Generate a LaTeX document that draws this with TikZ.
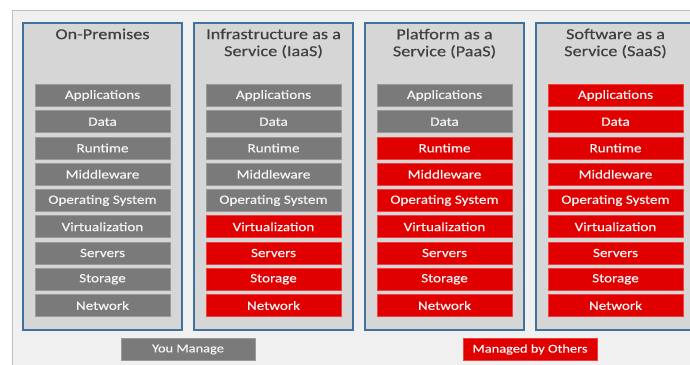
\documentclass[tikz,border=0pt]{standalone}
\usepackage{fontspec}
\setmainfont[FakeStretch=1.2,FakeBold=0.4]{Carlito}
\definecolor{pageback}{HTML}{F0F0F0}
\definecolor{pageline}{HTML}{BFBFBF}
\definecolor{colback}{HTML}{D6D6D6}
\definecolor{colline}{HTML}{41719C}
\definecolor{ownfill}{HTML}{7A7A7A}
\definecolor{ownline}{HTML}{9A9A9A}
\definecolor{otherfill}{HTML}{E00000}
\definecolor{otherline}{HTML}{F04040}
\definecolor{titletext}{HTML}{404040}
\tikzset{
  layer/.style={minimum width=135pt, minimum height=22pt, inner sep=0pt, text=white!96!black, line width=0.7pt, font=\fontsize{12.6}{14}\selectfont},
  you/.style={layer, fill=ownfill, draw=ownline},
  others/.style={layer, fill=otherfill, draw=otherline},
  column/.style={fill=colback, draw=colline, line width=1.3pt},
  coltitle/.style={anchor=north, align=center, text=titletext, inner sep=0pt, font=\fontsize{15.2}{17}\selectfont}
}
\begin{document}
\begin{tikzpicture}[x=1pt,y=-1pt]
\clip (0,0) rectangle (690,364);
\fill[white] (0,0) rectangle (690,364);
\draw[fill=pageback, draw=pageline, line width=1pt] (12,10) rectangle (710,380);

\draw[column] (23,23) rectangle (182,330);
\draw[column] (194,23) rectangle (353,330);
\draw[column] (365,23) rectangle (524,330);
\draw[column] (536,23) rectangle (695,330);

\node[coltitle] (onprem) at (102.5,28.5) {On-Premises};
\node[coltitle] (iaas) at (273.5,28.5) {Infrastructure as a\\Service (IaaS)};
\node[coltitle] (paas) at (444.5,28.5) {Platform as a\\Service (PaaS)};
\node[coltitle] (saas) at (615.5,28.5) {Software as a\\Service (SaaS)};

\node[you] (op1) at (102.5,95.5) {Applications};
\node[you] (op2) at (102.5,121.75) {Data};
\node[you] (op3) at (102.5,148) {Runtime};
\node[you] (op4) at (102.5,174.25) {Middleware};
\node[you] (op5) at (102.5,200.5) {Operating System};
\node[you] (op6) at (102.5,226.75) {Virtualization};
\node[you] (op7) at (102.5,253) {Servers};
\node[you] (op8) at (102.5,279.25) {Storage};
\node[you] (op9) at (102.5,305.5) {Network};

\node[you] (ia1) at (273.5,95.5) {Applications};
\node[you] (ia2) at (273.5,121.75) {Data};
\node[you] (ia3) at (273.5,148) {Runtime};
\node[you] (ia4) at (273.5,174.25) {Middleware};
\node[you] (ia5) at (273.5,200.5) {Operating System};
\node[others] (ia6) at (273.5,226.75) {Virtualization};
\node[others] (ia7) at (273.5,253) {Servers};
\node[others] (ia8) at (273.5,279.25) {Storage};
\node[others] (ia9) at (273.5,305.5) {Network};

\node[you] (pa1) at (444.5,95.5) {Applications};
\node[you] (pa2) at (444.5,121.75) {Data};
\node[others] (pa3) at (444.5,148) {Runtime};
\node[others] (pa4) at (444.5,174.25) {Middleware};
\node[others] (pa5) at (444.5,200.5) {Operating System};
\node[others] (pa6) at (444.5,226.75) {Virtualization};
\node[others] (pa7) at (444.5,253) {Servers};
\node[others] (pa8) at (444.5,279.25) {Storage};
\node[others] (pa9) at (444.5,305.5) {Network};

\node[others] (sa1) at (615.5,95.5) {Applications};
\node[others] (sa2) at (615.5,121.75) {Data};
\node[others] (sa3) at (615.5,148) {Runtime};
\node[others] (sa4) at (615.5,174.25) {Middleware};
\node[others] (sa5) at (615.5,200.5) {Operating System};
\node[others] (sa6) at (615.5,226.75) {Virtualization};
\node[others] (sa7) at (615.5,253) {Servers};
\node[others] (sa8) at (615.5,279.25) {Storage};
\node[others] (sa9) at (615.5,305.5) {Network};

\node[you, minimum width=134pt, font=\fontsize{12}{14}\selectfont] (youmanage) at (188,349.5) {You Manage};
\node[others, minimum width=134pt, font=\fontsize{12}{14}\selectfont] (managedothers) at (530,349.5) {Managed by Others};
\end{tikzpicture}
\end{document}
